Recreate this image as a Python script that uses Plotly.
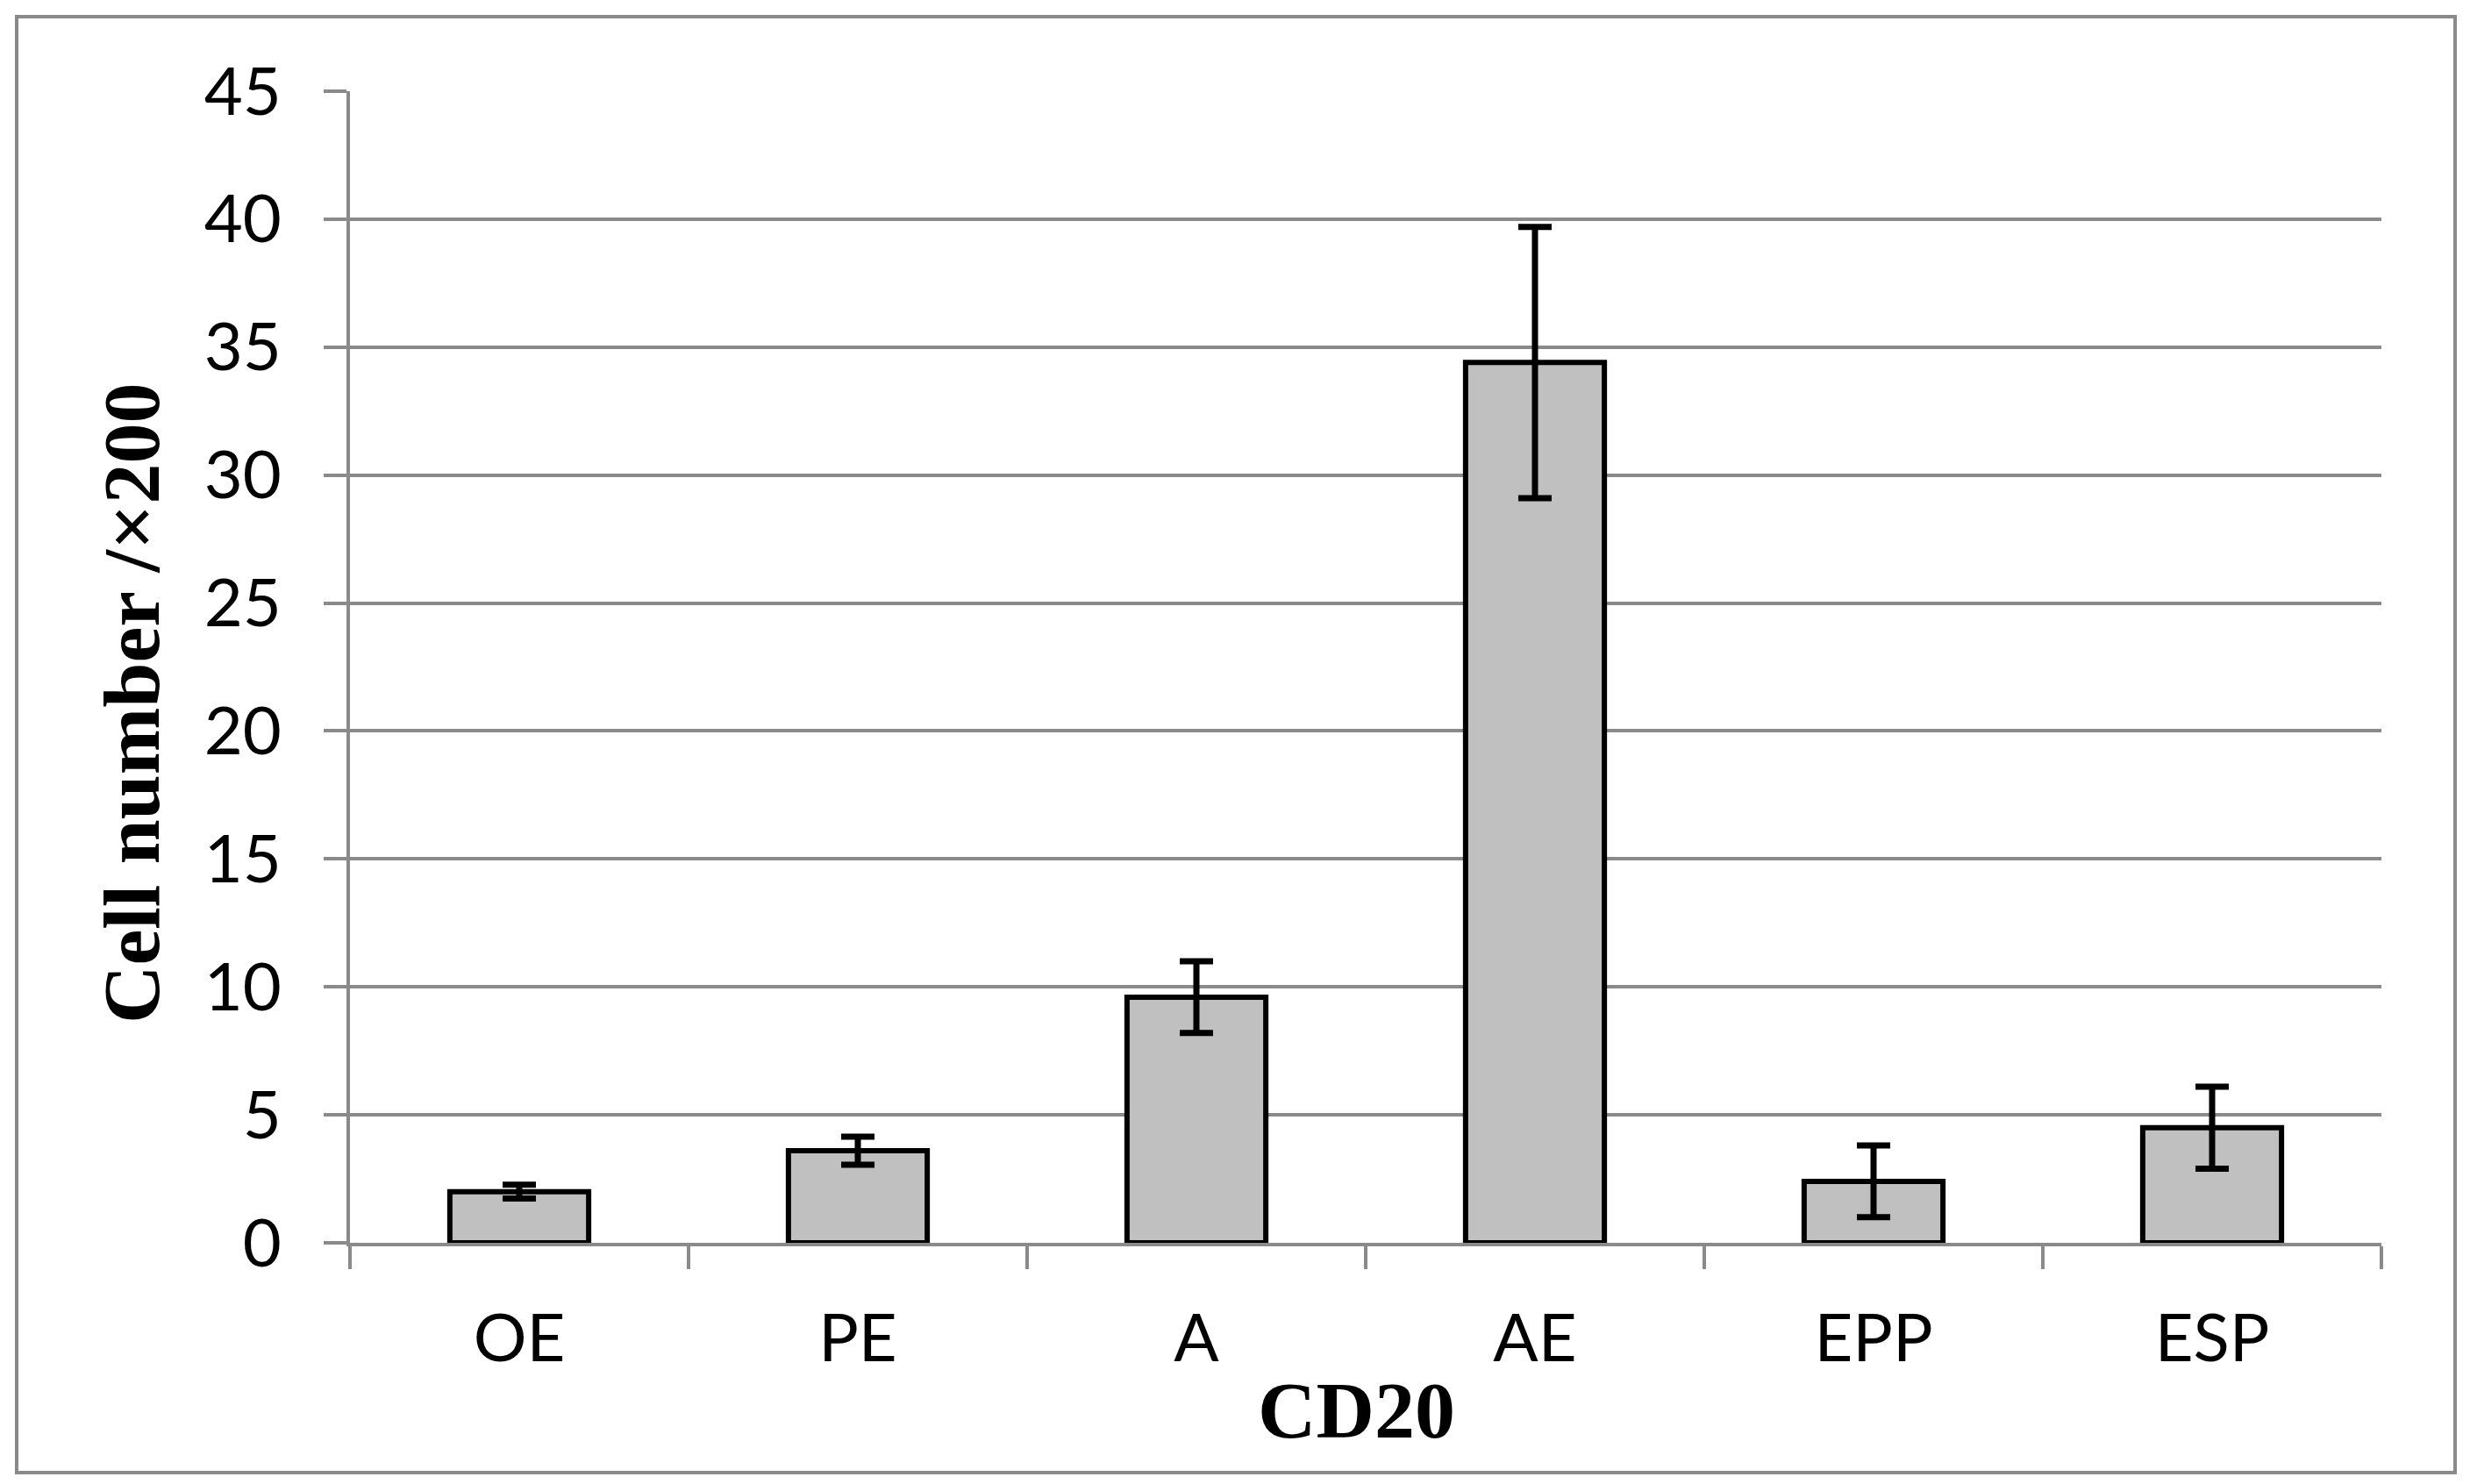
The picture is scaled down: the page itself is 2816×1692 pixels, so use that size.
import plotly.graph_objects as go

categories = ["OE", "PE", "A", "AE", "EPP", "ESP"]
values = [2.0, 3.6, 9.6, 34.4, 2.4, 4.5]
errors = [0.27, 0.55, 1.4, 5.3, 1.4, 1.6]
y_ticks = [0, 5, 10, 15, 20, 25, 30, 35, 40, 45]

# page body has an 8px default margin; figure sized to fit the window
OFF = 8
W, H = 2816 - OFF, 1692 - OFF
L = 399 - OFF
T = 104 - OFF
R = W - (2715 - OFF)
B = H - (1417 - OFF)
GRAY = "#8a8a8a"
tick_font = dict(family="Lato, sans-serif", size=76, color="black")
title_font = dict(family="Liberation Serif, Times New Roman, serif", size=92, color="black")

fig = go.Figure(go.Bar(
    x=categories,
    y=values,
    marker=dict(color="#c0c0c0", line=dict(color="black", width=6)),
    error_y=dict(type="data", array=errors, visible=True, color="black",
                 thickness=7, width=19),
))

pw = W - L - R
ph = H - T - B

def px_to_paper_x(px):
    return (px - OFF - L) / pw

def px_to_paper_y(py):
    return (H - B - (py - OFF)) / ph

fig.update_layout(
    width=W, height=H,
    margin=dict(l=L, r=R, t=T, b=B),
    paper_bgcolor="white", plot_bgcolor="white",
    bargap=0.59,
    showlegend=False,
    xaxis=dict(
        type="category",
        showline=True, linecolor=GRAY, linewidth=4,
        ticks="outside", tickson="boundaries", ticklen=26, tickwidth=4, tickcolor=GRAY,
        tickfont=tick_font, ticklabelstandoff=40,
        showgrid=False, zeroline=False,
    ),
    yaxis=dict(
        range=[0, 45], tickvals=y_ticks,
        showline=True, linecolor=GRAY, linewidth=4,
        ticks="outside", ticklen=26, tickwidth=4, tickcolor=GRAY,
        tickfont=tick_font, ticklabelstandoff=33,
        showgrid=True, gridcolor=GRAY, gridwidth=4,
        zeroline=False,
    ),
    shapes=[dict(
        type="rect", xref="paper", yref="paper",
        x0=px_to_paper_x(19), x1=px_to_paper_x(2799),
        y0=px_to_paper_y(1679), y1=px_to_paper_y(19),
        line=dict(color=GRAY, width=4), fillcolor="rgba(0,0,0,0)", layer="below",
    )],
    annotations=[
        dict(text="<b>CD20</b>", xref="paper", yref="paper",
             x=px_to_paper_x(1546), y=px_to_paper_y(1608),
             xanchor="center", yanchor="middle", showarrow=False, font=title_font),
        dict(text="<b>Cell number /×200</b>", xref="paper", yref="paper",
             x=px_to_paper_x(150), y=px_to_paper_y(802), textangle=-90,
             xanchor="center", yanchor="middle", showarrow=False, font=title_font),
    ],
)

fig.write_html("out.html")
